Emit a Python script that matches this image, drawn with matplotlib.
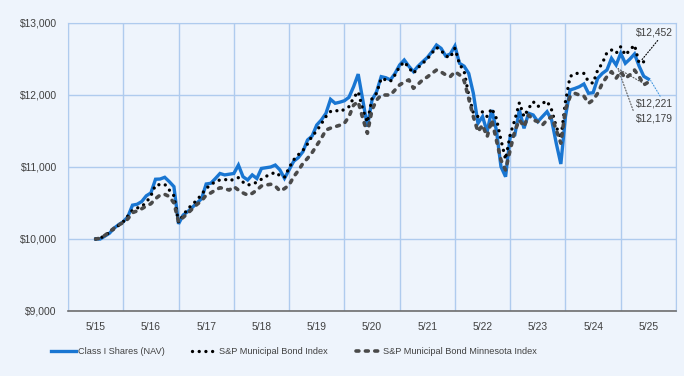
import matplotlib.pyplot as plt
from matplotlib.ticker import FuncFormatter
import numpy as np

# monthly growth of $10,000, 5/15 .. 5/25
class_i = [
    10000, 10000, 10040, 10080, 10150, 10200, 10240, 10310, 10470, 10482, 10520, 10600,
    10640, 10830, 10833, 10857, 10796, 10727, 10210, 10333, 10380, 10440, 10500, 10560,
    10764, 10774, 10840, 10910, 10890, 10900, 10910, 11027, 10865, 10820, 10890, 10840,
    10980, 10990, 11000, 11027, 10960, 10843, 10960, 11080, 11130, 11213, 11375, 11430,
    11583, 11653, 11745, 11940, 11885, 11900, 11920, 11968, 12115, 12290, 11930, 11560,
    11930, 12046, 12255, 12240, 12210, 12300, 12417, 12486, 12400, 12324, 12400, 12462,
    12520, 12600, 12694, 12648, 12542, 12570, 12680, 12440, 12400, 12300, 12024, 11607,
    11700, 11490, 11792, 11514, 11004, 10865, 11420, 11444, 11792, 11537, 11746, 11722,
    11630, 11700, 11768, 11653, 11330, 11042, 11700, 12070, 12090, 12115, 12153, 12024,
    12032, 12231, 12300, 12347, 12510, 12417, 12579, 12440, 12500, 12570, 12400, 12260,
    12221,
]
muni_index = [
    10000, 10010, 10050, 10090, 10140, 10190, 10240, 10320, 10400, 10430, 10450, 10510,
    10600, 10750, 10755, 10760, 10680, 10600, 10230, 10330, 10417, 10480, 10540, 10620,
    10704, 10750, 10800, 10820, 10830, 10806, 10830, 10852, 10790, 10750, 10760, 10790,
    10830, 10870, 10900, 10926, 10880, 10857, 10990, 11100, 11170, 11230, 11320, 11430,
    11500, 11600, 11700, 11770, 11790, 11768, 11800, 11838, 11960, 12046, 11800, 11620,
    11950, 12024, 12232, 12210, 12190, 12280, 12395, 12460, 12380, 12300, 12380, 12440,
    12500, 12580, 12660, 12620, 12540, 12520, 12650, 12430, 12330, 12000, 11750, 11700,
    11768, 11700, 11815, 11676, 11375, 11107, 11450, 11653, 11893, 11700, 11815, 11907,
    11838, 11885, 11917, 11792, 11560, 11398, 11907, 12255, 12300, 12300, 12300, 12185,
    12163, 12347, 12440, 12588, 12625, 12579, 12671, 12555, 12625, 12694, 12440, 12462,
    12452,
]
mn_index = [
    10000, 10010, 10050, 10100, 10150, 10194, 10230, 10280, 10366, 10390, 10420, 10458,
    10490, 10560, 10610, 10620, 10590, 10500, 10240, 10300, 10357, 10420, 10480, 10530,
    10610, 10640, 10680, 10712, 10700, 10680, 10727, 10680, 10640, 10610, 10634, 10680,
    10736, 10750, 10760, 10736, 10667, 10700, 10750, 10865, 10950, 11050, 11120, 11200,
    11300, 11398, 11514, 11540, 11560, 11580, 11607, 11700, 11860, 11907, 11676, 11468,
    11792, 11930, 12000, 12000, 12000, 12070, 12140, 12180, 12210, 12093, 12150, 12210,
    12250, 12300, 12347, 12320, 12280, 12255, 12324, 12280, 12200, 11950, 11700, 11490,
    11583, 11420, 11653, 11375, 11097, 10958, 11236, 11500, 11653, 11560, 11722, 11653,
    11630, 11583, 11653, 11700, 11514, 11330, 11800, 11977, 12024, 12000, 11986, 11885,
    11930, 12024, 12163, 12255, 12324, 12232, 12324, 12232, 12280, 12347, 12255, 12140,
    12179,
]
year_labels = ['5/15', '5/16', '5/17', '5/18', '5/19', '5/20',
               '5/21', '5/22', '5/23', '5/24', '5/25']
series_names = ['Class I Shares (NAV)', 'S&P Municipal Bond Index',
                'S&P Municipal Bond Minnesota Index']

bg = '#EEF4FC'
grid_c = '#AFCBEE'
txt_c = '#404040'
plt.rcParams['font.family'] = ['Liberation Sans', 'DejaVu Sans']

fig = plt.figure(figsize=(6.84, 3.76), dpi=100, facecolor=bg)
ax = fig.add_axes([68 / 684, 65 / 376, 608 / 684, 288 / 376], facecolor=bg)

months = np.arange(len(class_i))
ax.plot(months, class_i, color='#1976D2', lw=2.4, solid_joinstyle='miter', zorder=3,
        label=series_names[0])
ax.plot(months, muni_index, color='black', lw=2.4, linestyle=(0, (0.01, 2.0)),
        dash_capstyle='round', zorder=4, label=series_names[1])
ax.plot(months, mn_index, color='#4A4A4A', lw=2.6, linestyle=(0, (0.8, 1.8)),
        dash_capstyle='round', zorder=5, label=series_names[2])

ax.set_xlim(-6, 126)
ax.set_ylim(9000, 13000)
ax.set_xticks(np.arange(0, 121, 12))
ax.set_xticklabels(year_labels)
ax.set_xticks(np.arange(-6, 127, 12), minor=True)
ax.set_yticks(np.arange(9000, 13001, 1000))
ax.yaxis.set_major_formatter(FuncFormatter(lambda v, p: '${:,.0f}'.format(v)))
ax.tick_params(axis='both', which='both', length=0, labelsize=7.4, labelcolor=txt_c)
ax.tick_params(axis='x', pad=8)
ax.tick_params(axis='y', pad=8)
ax.grid(axis='y', which='major', color=grid_c, lw=1)
ax.grid(axis='x', which='minor', color=grid_c, lw=1)
for s in ['left', 'top', 'right']:
    ax.spines[s].set_color(grid_c)
ax.spines['bottom'].set_color('#6E6E6E')
ax.spines['bottom'].set_linewidth(1.2)

# end value callouts
last = len(class_i) - 1
ax.annotate('${:,.0f}'.format(muni_index[last]), xy=(last - 1.5, muni_index[last] + 30),
            xytext=(117.3, 12865), ha='left', va='center',
            fontsize=7.4, color=txt_c,
            arrowprops=dict(arrowstyle='-', color='black', lw=0.8, linestyle=':',
                            shrinkA=0, shrinkB=0, relpos=(0.65, 0)))
ax.annotate('${:,.0f}'.format(class_i[last]), xy=(last + 0.5, class_i[last] - 20),
            xytext=(117.3, 11875), ha='left', va='center',
            fontsize=7.4, color=txt_c,
            arrowprops=dict(arrowstyle='-', color='#4A9BE0', lw=0.8, linestyle=':',
                            shrinkA=0, shrinkB=0, relpos=(0.7, 1)))
ax.annotate('${:,.0f}'.format(mn_index[last]), xy=(last - 1, mn_index[last] - 20),
            xytext=(117.3, 11680), ha='left', va='center',
            fontsize=7.4, color=txt_c,
            arrowprops=dict(arrowstyle='-', color='#555555', lw=0.8, linestyle=':',
                            shrinkA=0, shrinkB=0, relpos=(0, 0.5),
                            connectionstyle='angle,angleA=-70,angleB=-30,rad=0'))

leg = fig.legend(loc='center left', bbox_to_anchor=(51 / 684, 1 - 352 / 376), ncol=3,
                 frameon=False, handlelength=2.7, handletextpad=0.25, columnspacing=3.0,
                 borderpad=0, borderaxespad=0, prop={'size': 6.6})
for t in leg.get_texts():
    t.set_color(txt_c)

fig.savefig('out.png', dpi=100, facecolor=bg)
